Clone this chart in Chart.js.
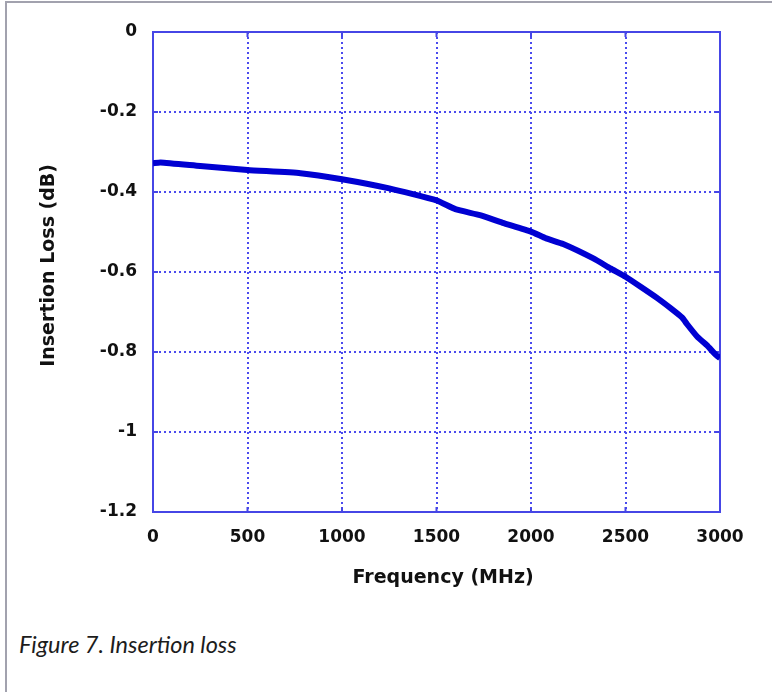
<!DOCTYPE html>
<html>
<head>
<meta charset="utf-8">
<script src="https://cdn.jsdelivr.net/npm/chart.js@4/dist/chart.umd.min.js"></script>
<style>
  html, body { margin: 0; padding: 0; background: #fff; }
  body { width: 772px; height: 692px; position: relative; overflow: hidden; }
  #frame { position: absolute; left: 5px; top: 1px; width: 800px; height: 720px;
           border-left: 2px solid #a2a2ae; border-top: 2px solid #a2a2ae; }
  #wrap { position: absolute; left: 0; top: 0; width: 772px; height: 600px; }
  #caption { position: absolute; left: 19px; top: 630px; font-family: Lato, sans-serif;
             font-style: italic; font-size: 23.5px; line-height: 28px; color: #1c1c1c; white-space: nowrap; }
</style>
</head>
<body>
<div id="frame"></div>
<div id="wrap"><canvas id="c" width="772" height="600"></canvas></div>
<div id="caption">Figure 7. Insertion loss</div>
<script>
const frequency = [0, 40, 250, 500, 780, 1000, 1250, 1500, 1600, 1730, 1850, 2000, 2080, 2170, 2330, 2420, 2500, 2580, 2670, 2740, 2800, 2825, 2880, 2930, 2980, 3000];
const insertionLoss = [-0.328, -0.326, -0.335, -0.345, -0.353, -0.368, -0.391, -0.421, -0.443, -0.458, -0.477, -0.499, -0.516, -0.530, -0.566, -0.591, -0.612, -0.637, -0.666, -0.691, -0.714, -0.730, -0.762, -0.783, -0.808, -0.815];
const xTicks = [0, 500, 1000, 1500, 2000, 2500, 3000];
const yTicks = [0, -0.2, -0.4, -0.6, -0.8, -1, -1.2];
const xTitle = 'Frequency (MHz)';
const yTitle = 'Insertion Loss (dB)';

const AXIS = '#4646e6';
const GRID = '#4a4aee';
const tickFont = { family: '"DejaVu Sans", sans-serif', size: 17, weight: 'bold' };
const titleFont = { family: '"DejaVu Sans", sans-serif', size: 19, weight: 'bold' };

const framePlugin = {
  id: 'frame',
  beforeDatasetsDraw(chart) {
    const { ctx, chartArea: a, scales: { x, y } } = chart;
    ctx.save();
    ctx.strokeStyle = AXIS;
    ctx.lineWidth = 2;
    ctx.setLineDash([]);
    ctx.strokeRect(a.left, a.top, a.right - a.left, a.bottom - a.top);
    ctx.lineWidth = 2;
    const L = 5;
    ctx.beginPath();
    xTicks.forEach(v => {
      const px = x.getPixelForValue(v);
      ctx.moveTo(px, a.bottom); ctx.lineTo(px, a.bottom - L);
      ctx.moveTo(px, a.top); ctx.lineTo(px, a.top + L);
    });
    yTicks.forEach(v => {
      const py = y.getPixelForValue(v);
      ctx.moveTo(a.left, py); ctx.lineTo(a.left + L, py);
      ctx.moveTo(a.right, py); ctx.lineTo(a.right - L, py);
    });
    ctx.stroke();
    ctx.restore();
  }
};

new Chart(document.getElementById('c'), {
  type: 'line',
  data: {
    datasets: [{
      data: frequency.map((f, i) => ({ x: f, y: insertionLoss[i] })),
      borderColor: '#0000d2',
      borderWidth: 6,
      pointRadius: 0,
      tension: 0.15,
      fill: false
    }]
  },
  options: {
    responsive: false,
    animation: false,
    layout: { padding: { left: 0, right: 52, top: 32, bottom: 0 } },
    plugins: { legend: { display: false }, tooltip: { enabled: false } },
    scales: {
      x: {
        type: 'linear', min: 0, max: 3000,
        afterBuildTicks: s => { s.ticks = xTicks.map(v => ({ value: v })); },
        afterFit: s => { s.height = 88; },
        ticks: { font: tickFont, color: '#111', padding: 15, maxRotation: 0, callback: v => String(v) },
        grid: { color: GRID, lineWidth: 2, drawTicks: false },
        border: { display: true, color: AXIS, width: 2, dash: [2, 3] },
        title: { display: true, text: '  ' + xTitle, font: titleFont, color: '#111', padding: { top: 0, bottom: 10.6 } }
      },
      y: {
        type: 'linear', min: -1.2, max: 0,
        afterBuildTicks: s => { s.ticks = yTicks.map(v => ({ value: v })); },
        afterFit: s => { s.width = 153; },
        ticks: { font: tickFont, color: '#111', padding: 16, callback: v => String(v) },
        grid: { color: GRID, lineWidth: 2, drawTicks: false },
        border: { display: true, color: AXIS, width: 2, dash: [2, 3] },
        title: { display: true, text: '  ' + yTitle, font: titleFont, color: '#111', padding: { top: 37.6, bottom: 0 } }
      }
    }
  },
  plugins: [framePlugin]
});
</script>
</body>
</html>
